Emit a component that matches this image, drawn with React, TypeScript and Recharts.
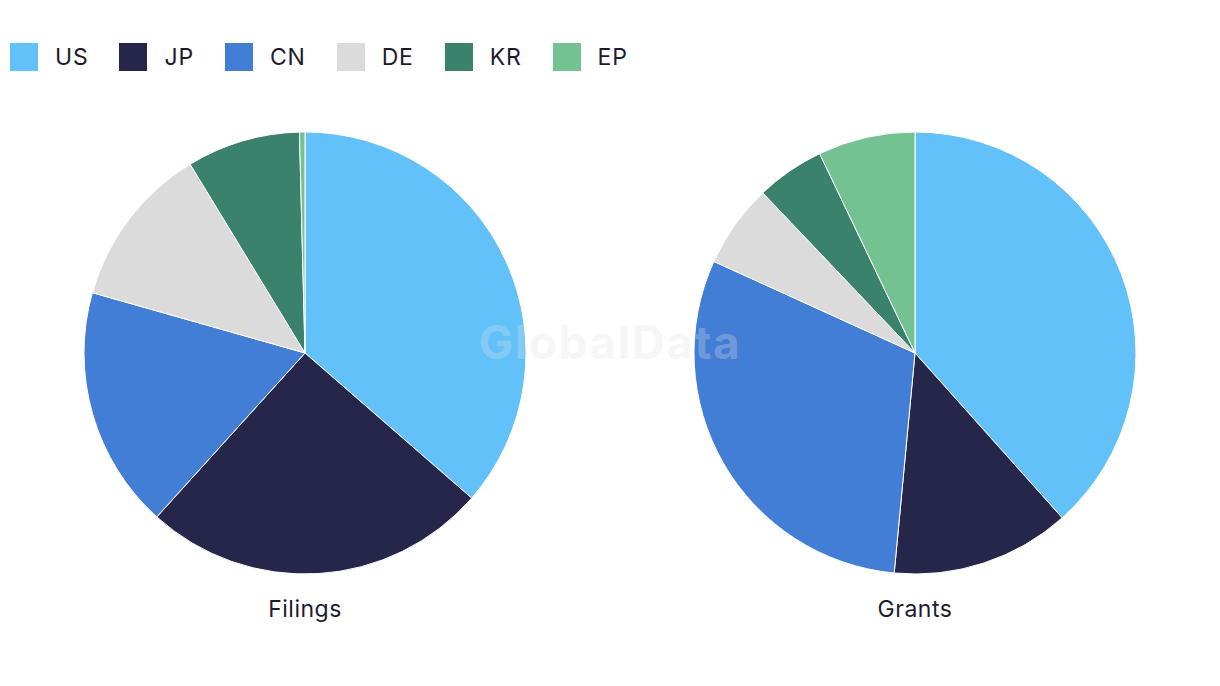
import React from 'react';
import { PieChart, Pie, Cell } from 'recharts';

// offices, in legend / slice order
const offices = ['US', 'JP', 'CN', 'DE', 'KR', 'EP'];
const colors = ['#62C1F9', '#26264A', '#427DD6', '#DBDBDB', '#3A826B', '#74C291'];

// share of patents (%)
const filings = [36.4, 25.3, 17.7, 11.9, 8.3, 0.4];
const grants = [38.4, 13.1, 30.3, 6.1, 5.0, 7.1];

const filingsData = offices.map((name, i) => ({ name, value: filings[i] }));
const grantsData = offices.map((name, i) => ({ name, value: grants[i] }));

const FONT = 'Inter, "Noto Sans", sans-serif';
const TEXT = '#1C1C2E';

const App: React.FC = () => {
  return (
    <div style={{ position: 'absolute', left: 0, top: 0, width: 1220, height: 686, background: '#fff', fontFamily: FONT }}>
      {/* legend */}
      <div style={{ position: 'absolute', left: 10, top: 43, display: 'flex', alignItems: 'center' }}>
        {offices.map((o, i) => (
          <div key={o} style={{ display: 'flex', alignItems: 'center', marginRight: 31 }}>
            <span style={{ width: 28, height: 28, background: colors[i], display: 'inline-block' }} />
            <span style={{ marginLeft: 17, fontSize: 23, letterSpacing: 0.8, color: TEXT }}>{o}</span>
          </div>
        ))}
      </div>

      <PieChart width={1220} height={686} margin={{ top: 0, right: 0, bottom: 0, left: 0 }} style={{ position: 'absolute', left: 0, top: 0 }}>
        <Pie
          data={filingsData}
          dataKey="value"
          cx={305}
          cy={353}
          outerRadius={221}
          startAngle={90}
          endAngle={-270}
          stroke="#fff"
          strokeWidth={1}
          isAnimationActive={false}
        >
          {filingsData.map((d, i) => (
            <Cell key={d.name} fill={colors[i]} />
          ))}
        </Pie>
        <Pie
          data={grantsData}
          dataKey="value"
          cx={915}
          cy={353}
          outerRadius={221}
          startAngle={90}
          endAngle={-270}
          stroke="#fff"
          strokeWidth={1}
          isAnimationActive={false}
        >
          {grantsData.map((d, i) => (
            <Cell key={d.name} fill={colors[i]} />
          ))}
        </Pie>
      </PieChart>

      {/* watermark */}
      <div style={{ position: 'absolute', left: 0, width: 1220, top: 314, textAlign: 'center', fontSize: 46, letterSpacing: 1.5, fontWeight: 700, color: 'rgba(225,225,225,0.3)', pointerEvents: 'none' }}>
        GlobalData
      </div>

      {/* pie captions */}
      <div style={{ position: 'absolute', left: 205, width: 200, top: 595, textAlign: 'center', fontSize: 23, letterSpacing: 0.5, color: TEXT }}>Filings</div>
      <div style={{ position: 'absolute', left: 815, width: 200, top: 595, textAlign: 'center', fontSize: 23, letterSpacing: 0.5, color: TEXT }}>Grants</div>
    </div>
  );
};

export default App;
